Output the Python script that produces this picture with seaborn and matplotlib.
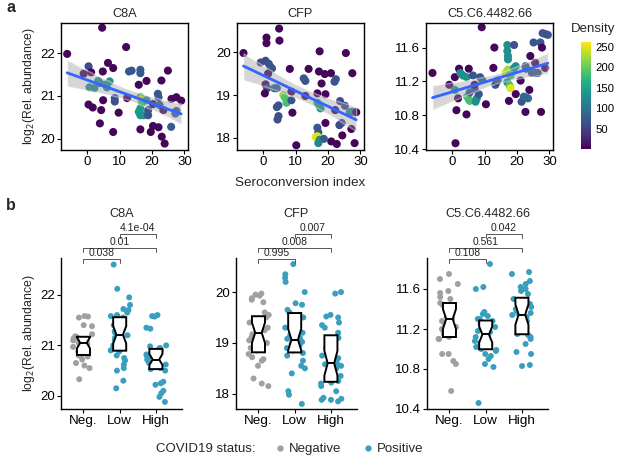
import numpy as np
import pandas as pd
import matplotlib
matplotlib.use("Agg")
import matplotlib.pyplot as plt
import seaborn as sns
from matplotlib.lines import Line2D

# ---- panel a: seroconversion index vs abundance (density coloured) ----
c8a_x = [-6.2, 4.6, 12.0, 0.4, -1.1, 1.2, 6.4, 8.0, 4.8, 0.7, 2.2, 3.4, 3.9, 6.1, 6.9, 5.6, 12.9, 13.7, 16.4, 16.4,
         18.3, 15.9, 22.9, 24.9, 8.5, 8.5, 12.3, 4.9, 0.4, 1.7, 4.3, 9.7, 3.9, 8.0, 16.4, 16.6, 16.9, 16.4, 15.9, 16.4,
         17.4, 18.3, 18.8, 18.8, 16.4, 20.3, 21.8, 22.0, 20.3, 22.3, 23.5, 26.0, 27.5, 29.0, 27.2, 27.5, 25.9, 22.0,
         23.0, 23.9, 19.6]
c8a_y = [21.98, 22.59, 22.14, 21.69, 21.52, 21.55, 21.77, 21.65, 21.57, 21.2, 21.18, 21.35, 21.3, 21.2, 21.34, 21.26,
         21.57, 21.59, 21.61, 21.53, 21.35, 21.26, 21.36, 21.59, 20.95, 20.87, 20.95, 20.9, 20.8, 20.73, 20.67, 20.61,
         20.36, 20.16, 20.98, 20.92, 20.84, 20.71, 20.63, 20.55, 20.55, 20.9, 20.67, 20.55, 20.22, 20.3, 21.05, 20.97,
         20.81, 20.79, 20.67, 20.93, 20.97, 20.89, 20.59, 20.65, 20.28, 20.27, 20.05, 19.89, 20.16]
c8a_dens = [5, 5, 5, 60, 5, 5, 5, 5, 5, 120, 120, 130, 130, 120, 130, 125, 70, 70, 75, 75, 5, 5, 5, 5, 65, 65, 5, 5,
            5, 5, 5, 5, 5, 5, 190, 250, 185, 140, 140, 135, 135, 140, 70, 70, 5, 5, 70, 70, 5, 70, 5, 5, 5, 5, 75, 75,
            75, 5, 5, 5, 5]

cfp_x = [-6.1, 4.9, 1.0, 1.0, 5.0, 17.4, 25.5, -0.8, 0.7, 1.7, 2.2, 2.7, 1.5, 8.2, 14.0, 12.5, 13.0, 17.2, 19.0, 20.9,
         22.4, 22.0, 27.5, 18.0, 0.7, 1.2, 0.5, 3.4, 4.2, 8.7, 13.0, 16.7, 19.2, 6.2, 6.7, 7.2, 8.7, 4.7, 4.2, 9.0,
         4.7, 4.4, 16.7, 17.2, 17.7, 22.2, 23.7, 25.2, 26.7, 27.4, 28.7, 19.2, 23.5, 24.2, 16.7, 17.0, 16.7, 16.2,
         17.4, 18.7, 17.0, 21.0, 22.7, 24.4, 27.2, 28.2, 10.2]
cfp_y = [19.98, 20.55, 20.34, 20.21, 20.27, 20.02, 19.98, 19.76, 19.8, 19.73, 19.66, 19.62, 19.5, 19.61, 19.61, 19.39,
         19.33, 19.55, 19.49, 19.51, 19.37, 19.31, 19.51, 19.27, 19.25, 19.16, 19.04, 19.16, 19.16, 19.08, 18.98,
         19.04, 19.02, 19.0, 18.94, 18.82, 18.88, 18.76, 18.72, 18.59, 18.51, 18.43, 18.82, 18.76, 18.69, 18.65,
         18.86, 18.75, 18.6, 18.61, 18.6, 18.35, 18.3, 18.35, 18.24, 18.13, 18.04, 18.02, 17.96, 17.98, 17.88, 17.92,
         17.86, 18.06, 18.21, 17.88, 17.83]
cfp_dens = [5, 5, 5, 5, 5, 5, 5, 60, 60, 65, 70, 70, 5, 5, 5, 70, 70, 5, 5, 5, 70, 70, 5, 5, 5, 60, 5, 100, 80, 5,
            5, 5, 5, 220, 190, 185, 70, 70, 70, 5, 65, 65, 160, 130, 130, 5, 60, 60, 120, 120, 5, 5, 60, 60, 70, 70,
            255, 250, 130, 75, 120, 5, 5, 5, 5, 5, 5]

c5_x = [-6.1, 9.1, -0.9, 0.8, 2.1, 5.1, 2.5, 3.3, 4.4, 0.8, 1.8, 1.3, 4.4, 1.0, 4.6, 5.1, 5.4, 5.4, 6.9, 6.9,
        6.4, 7.2, 7.6, 8.2, 8.6, 9.2, 10.4, 13.0, 12.7, 13.3, 13.8, 14.0, 17.0, 17.0, 17.2, 17.2, 19.1, 16.5, 17.2,
        18.0, 17.0, 17.7, 18.0, 19.1, 19.6, 17.5, 19.6, 21.1, 21.4, 22.1, 22.8, 23.4, 22.6, 22.6, 22.8, 24.1, 23.8,
        25.1, 25.6, 24.6, 25.6, 26.4, 27.2, 27.7, 28.7, 27.4, 27.9, 28.7, 29.5]
c5_y = [11.30, 11.84, 11.16, 11.25, 11.35, 11.35, 11.3, 11.27, 11.25, 11.1, 11.0, 10.86, 10.81, 10.47, 11.02, 10.99,
        10.97, 11.07, 11.11, 11.16, 11.27, 10.96, 11.0, 11.05, 11.25, 11.22, 10.93, 11.6, 11.36, 11.16, 11.2, 11.21,
        11.63, 11.56, 11.5, 11.46, 11.63, 11.31, 11.34, 11.27, 11.19, 11.15, 11.12, 11.36, 11.38, 10.97, 11.05,
        11.21, 10.96, 11.02, 11.01, 11.0, 10.84, 11.38, 11.35, 11.5, 11.1, 11.66, 11.42, 11.3, 11.3, 11.3, 11.66,
        11.6, 11.36, 10.84, 11.77, 11.76, 11.75]
c5_dens = [5, 5, 5, 5, 5, 5, 130, 130, 130, 130, 5, 5, 5, 5, 185, 190, 185, 70, 70, 5, 70, 130, 130, 70, 70, 70, 5,
           5, 5, 70, 5, 70, 130, 130, 130, 130, 70, 250, 225, 185, 130, 190, 250, 130, 130, 5, 5, 5, 70, 90, 90, 90,
           5, 70, 70, 5, 5, 70, 5, 70, 70, 70, 70, 5, 5, 5, 70, 70, 70]

# ---- panel b: abundance by group ----
groups = ["Neg.", "Low", "High"]
c8a_neg = [21.58, 21.57, 21.55, 21.40, 21.38, 21.22, 21.18, 21.16, 21.14, 21.12, 21.10, 21.08, 21.07, 21.05, 21.03,
           21.00, 20.97, 20.92, 20.88, 20.82, 20.80, 20.78, 20.72, 20.65, 20.60, 20.55, 20.33]
c8a_low = [22.60, 22.12, 21.95, 21.80, 21.72, 21.70, 21.65, 21.60, 21.58, 21.55, 21.50, 21.45, 21.40, 21.35, 21.30,
           21.28, 21.25, 21.22, 21.20, 21.18, 21.15, 21.10, 21.05, 21.00, 20.95, 20.92, 20.90, 20.88, 20.80, 20.75,
           20.70, 20.62, 20.55, 20.50, 20.30, 20.15]
c8a_high = [21.60, 21.58, 21.57, 21.35, 21.33, 21.00, 20.98, 20.95, 20.93, 20.90, 20.88, 20.85, 20.82, 20.80, 20.78,
            20.75, 20.72, 20.70, 20.68, 20.65, 20.62, 20.60, 20.60, 20.55, 20.53, 20.50, 20.28, 20.25, 20.22, 20.10,
            20.05, 19.98, 19.88]
cfp_neg = [19.97, 19.95, 19.93, 19.88, 19.85, 19.80, 19.60, 19.55, 19.50, 19.42, 19.40, 19.35, 19.30, 19.25, 19.22,
           19.20, 19.17, 19.10, 19.05, 19.00, 18.95, 18.90, 18.85, 18.78, 18.72, 18.68, 18.65, 18.55, 18.30, 18.20,
           18.15]
cfp_low = [20.55, 20.35, 20.28, 20.20, 20.00, 19.78, 19.75, 19.65, 19.60, 19.55, 19.50, 19.40, 19.30, 19.20, 19.15,
           19.10, 19.08, 19.05, 19.02, 19.00, 18.98, 18.95, 18.90, 18.88, 18.85, 18.80, 18.75, 18.65, 18.55, 18.50,
           18.40, 18.05, 17.98, 17.80]
cfp_high = [20.00, 19.97, 19.55, 19.52, 19.50, 19.40, 19.35, 19.30, 19.20, 19.10, 18.98, 18.90, 18.85, 18.80, 18.75,
            18.70, 18.65, 18.60, 18.58, 18.55, 18.50, 18.40, 18.35, 18.30, 18.25, 18.20, 18.15, 18.05, 18.28, 18.22,
            17.92, 17.90, 17.88, 17.85, 17.88]
c5_neg = [11.75, 11.70, 11.65, 11.58, 11.56, 11.52, 11.50, 11.46, 11.44, 11.42, 11.40, 11.38, 11.35, 11.32, 11.30,
          11.28, 11.25, 11.22, 11.20, 11.18, 11.15, 11.12, 11.10, 11.10, 10.95, 10.95, 10.88, 10.85, 10.58]
c5_low = [11.85, 11.62, 11.60, 11.37, 11.35, 11.33, 11.30, 11.30, 11.28, 11.25, 11.24, 11.22, 11.20, 11.18, 11.17,
          11.15, 11.14, 11.12, 11.10, 11.08, 11.06, 11.05, 11.02, 11.00, 10.99, 10.98, 10.95, 10.93, 10.90, 10.85,
          10.82, 10.46]
c5_high = [11.77, 11.75, 11.68, 11.65, 11.62, 11.60, 11.58, 11.55, 11.50, 11.48, 11.45, 11.42, 11.40, 11.38, 11.36,
           11.35, 11.34, 11.32, 11.30, 11.28, 11.25, 11.22, 11.20, 11.15, 11.10, 11.05, 11.14, 11.12, 10.97, 10.95,
           10.84, 10.83]

pvals = {
    "C8A": ["0.038", "0.01", "4.1e-04"],
    "CFP": ["0.995", "0.008", "0.007"],
    "C5.C6.4482.66": ["0.108", "0.561", "0.042"],
}

sns.set_theme(style="white")
plt.rcParams['font.family'] = ['Liberation Sans', 'DejaVu Sans']
plt.rcParams['axes.edgecolor'] = 'black'
plt.rcParams['xtick.color'] = 'black'
plt.rcParams['ytick.color'] = 'black'

neg_color = "#a0a0a0"
pos_color = "#3a9fbf"
dens_norm = (1, 262)

fig = plt.figure(figsize=(6.17, 4.58), dpi=100)
W, H = 617, 458


def px_axes(left, top, width, height):
    return fig.add_axes([left / W, (H - top - height) / H, width / W, height / H])


def style_ticks(ax):
    ax.tick_params(axis='both', which='both', direction='out', length=3, width=0.8,
                   labelsize=9.5, pad=1.5, bottom=True, left=True)


scatter_sets = [
    ("C8A", c8a_x, c8a_y, c8a_dens, (19.74, 22.7), [20, 21, 22], 61),
    ("CFP", cfp_x, cfp_y, cfp_dens, (17.72, 20.68), [18, 19, 20], 237),
    ("C5.C6.4482.66", c5_x, c5_y, c5_dens, (10.39, 11.89), [10.4, 10.8, 11.2, 11.6], 426),
]

for name, xs, ys, dens, ylim, yticks, left in scatter_sets:
    ax = px_axes(left, 23, 127, 127)
    df = pd.DataFrame({"sero": xs, "abund": ys, "density": dens})
    sns.scatterplot(data=df, x="sero", y="abund", hue="density", palette="viridis",
                    hue_norm=dens_norm, s=34, linewidth=0, legend=False, ax=ax, zorder=2)
    sns.regplot(data=df, x="sero", y="abund", scatter=False, ci=95, seed=1, ax=ax,
                line_kws={"color": "#3366ff", "lw": 2, "zorder": 4})
    band = ax.collections[-1]
    band.set_facecolor("#999999")
    band.set_alpha(0.4)
    band.set_zorder(3)
    ax.set_xlim(-8.1, 31.1)
    ax.set_ylim(*ylim)
    ax.set_xticks([0, 10, 20, 30])
    ax.set_yticks(yticks)
    if name == "C5.C6.4482.66":
        ax.set_yticklabels([f"{t:.1f}" for t in yticks])
    ax.set_xlabel("")
    ax.set_ylabel("")
    for sp in ax.spines.values():
        sp.set_linewidth(1.0)
        sp.set_color("black")
    style_ticks(ax)
    ax.set_title(name, fontsize=9.2, pad=4)
    if name == "C8A":
        ax.set_ylabel("log$_2$(Rel. abundance)", fontsize=8.8, labelpad=2)
    if name == "CFP":
        ax.set_xlabel("Seroconversion index", fontsize=9.7, labelpad=6)

# colour bar
cax = px_axes(581, 42, 10, 107)
sm = plt.cm.ScalarMappable(cmap="viridis", norm=plt.Normalize(*dens_norm))
cb = fig.colorbar(sm, cax=cax)
cb.outline.set_visible(False)
cb.set_ticks([50, 100, 150, 200, 250])
cb.ax.tick_params(labelsize=8.2, length=2, color="white", pad=1)
fig.text(571 / W, 1 - 29 / H, "Density", fontsize=9.5, ha="left", va="center")


def bracket(ax, x1, x2, yfrac, label):
    tr = ax.get_xaxis_transform()
    ax.plot([x1, x1, x2, x2], [yfrac - 0.025, yfrac, yfrac, yfrac - 0.025], color="#555555",
            lw=0.7, transform=tr, clip_on=False)
    ax.text((x1 + x2) / 2, yfrac + 0.004, label, transform=tr, ha="center", va="bottom",
            fontsize=7.5, color="#222222")


box_sets = [
    ("C8A", [c8a_neg, c8a_low, c8a_high], (19.74, 22.73), [20, 21, 22], 61),
    ("CFP", [cfp_neg, cfp_low, cfp_high], (17.7, 20.67), [18, 19, 20], 236),
    ("C5.C6.4482.66", [c5_neg, c5_low, c5_high], (10.4, 11.91), [10.4, 10.8, 11.2, 11.6], 427),
]

np.random.seed(3)
for name, vals, ylim, yticks, left in box_sets:
    ax = px_axes(left, 258, 121, 151)
    df = pd.DataFrame({
        "group": np.repeat(groups, [len(v) for v in vals]),
        "value": np.concatenate(vals),
    })
    df["status"] = np.where(df["group"] == "Neg.", "Negative", "Positive")
    sns.stripplot(data=df, x="group", y="value", hue="status", order=groups,
                  palette={"Negative": neg_color, "Positive": pos_color},
                  jitter=0.3, size=4.3, linewidth=0, legend=False, ax=ax, zorder=1)
    sns.boxplot(data=df, x="group", y="value", order=groups, notch=True, width=0.36,
                whis=0, showcaps=False, showfliers=False, linecolor="black", linewidth=1.4,
                boxprops={"facecolor": "white"}, ax=ax, zorder=3)
    ax.set_xlim(-0.62, 2.72)
    ax.set_ylim(*ylim)
    ax.set_yticks(yticks)
    if name == "C5.C6.4482.66":
        ax.set_yticklabels([f"{t:.1f}" for t in yticks])
    sns.despine(ax=ax)
    for sp in ("left", "bottom"):
        ax.spines[sp].set_linewidth(1.0)
        ax.spines[sp].set_color("black")
    style_ticks(ax)
    ax.tick_params(axis='x', labelsize=9.7)
    ax.set_xlabel("")
    ax.set_ylabel("log$_2$(Rel. abundance)" if name == "C8A" else "", fontsize=8.8, labelpad=2)
    ax.text(0.5, 1.29, name, transform=ax.transAxes, ha="center", va="center", fontsize=9.2)
    p1, p2, p3 = pvals[name]
    bracket(ax, 0, 1, 0.993, p1)
    bracket(ax, 0, 2, 1.066, p2)
    bracket(ax, 1, 2, 1.159, p3)

# panel letters
fig.text(6 / W, 1 - 8 / H, "a", fontsize=11.5, fontweight="bold", ha="left", va="center")
fig.text(6 / W, 1 - 205 / H, "b", fontsize=11.5, fontweight="bold", ha="left", va="center")

# bottom legend
fig.text(256 / W, 1 - 449 / H, "COVID19 status:", fontsize=9.5, ha="right", va="center")
handles = [
    Line2D([], [], marker="o", linestyle="", color=neg_color, markersize=3.5, label="Negative"),
    Line2D([], [], marker="o", linestyle="", color=pos_color, markersize=3.5, label="Positive"),
]
fig.legend(handles=handles, loc="center left", bbox_to_anchor=(272 / W, 1 - 449 / H), ncol=2,
           frameon=False, fontsize=9.5, handletextpad=0.1, columnspacing=1.4, handlelength=1.2,
           borderaxespad=0, borderpad=0)

fig.savefig("out.png", dpi=100)
